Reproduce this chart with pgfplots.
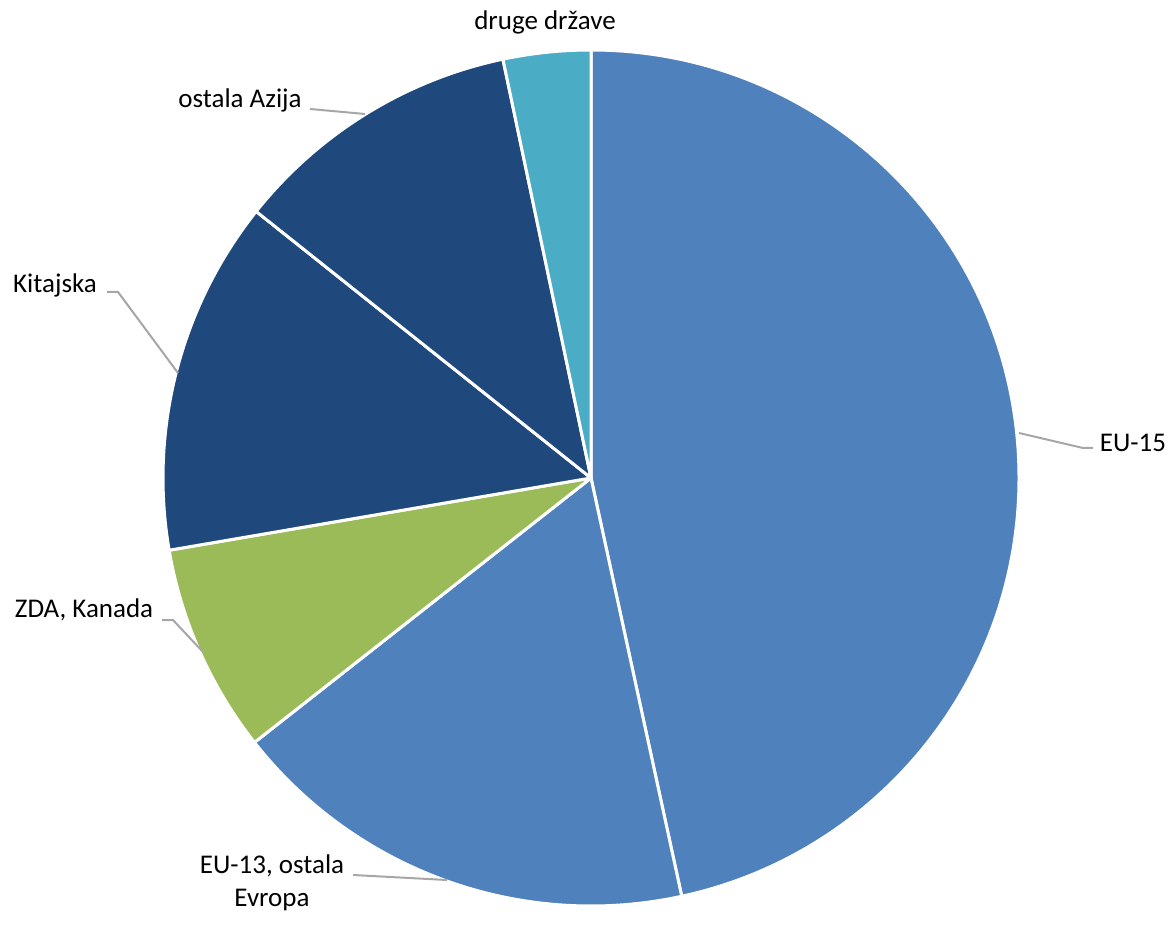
\documentclass[border=0pt]{standalone}
\usepackage{pgfplots}
\pgfplotsset{compat=1.18}
\usepackage{fontspec}
\setmainfont{Carlito}

\definecolor{sliceBlue}{HTML}{4F81BD}
\definecolor{sliceGreen}{HTML}{9BBB59}
\definecolor{sliceNavy}{HTML}{1F497D}
\definecolor{sliceAqua}{HTML}{4BACC6}
\definecolor{leader}{HTML}{A6A6A6}

% shares in percent, clockwise from the top
\def\pA{46.6}  % EU-15
\def\pB{17.8}  % EU-13, ostala Evropa
\def\pC{7.9}   % ZDA, Kanada
\def\pD{13.4}  % Kitajska
\def\pE{11.0}  % ostala Azija
\def\pF{3.3}   % druge drzave

\pgfmathsetmacro\aA{90}
\pgfmathsetmacro\aB{\aA-3.6*\pA}
\pgfmathsetmacro\aC{\aB-3.6*\pB}
\pgfmathsetmacro\aD{\aC-3.6*\pC}
\pgfmathsetmacro\aE{\aD-3.6*\pD}
\pgfmathsetmacro\aF{\aE-3.6*\pE}
\pgfmathsetmacro\aG{\aF-3.6*\pF}

\newcommand\slice[3]{%
  \fill[#3,draw=white,line width=1.5pt,line join=round]
    (axis cs:591,436) -- ++(#1:214pt) arc[start angle=#1,end angle=#2,radius=214pt] -- cycle;}

\begin{document}
\begin{tikzpicture}
\begin{axis}[
    x=0.5pt, y=0.5pt,
    xmin=0, xmax=1176, ymin=0, ymax=914,
    hide axis,
    clip=false,
]
\path (axis cs:0,0) rectangle (axis cs:1176,914);

\slice{\aA}{\aB}{sliceBlue}
\slice{\aB}{\aC}{sliceBlue}
\slice{\aC}{\aD}{sliceGreen}
\slice{\aD}{\aE}{sliceNavy}
\slice{\aE}{\aF}{sliceNavy}
\slice{\aF}{\aG}{sliceAqua}

% leader lines
\draw[leader,line width=1pt] (axis cs:1019,481) -- (axis cs:1083,466) -- (axis cs:1093,466);
\draw[leader,line width=1pt] (axis cs:353,39) -- (axis cs:447,34);
\draw[leader,line width=1pt] (axis cs:162,294) -- (axis cs:173,294) -- (axis cs:203,262);
\draw[leader,line width=1pt] (axis cs:107,622) -- (axis cs:118,622) -- (axis cs:178,541);
\draw[leader,line width=1pt] (axis cs:310,805) -- (axis cs:365,800);

% labels
\begin{scope}[every node/.style={font=\fontsize{13.5}{16.5}\selectfont,inner sep=0pt}]
\node at (axis cs:1133,471) {EU-15};
\node[align=center] at (axis cs:272,31) {EU-13, ostala\\Evropa};
\node at (axis cs:84,304) {ZDA, Kanada};
\node at (axis cs:55,629) {Kitajska};
\node at (axis cs:240,814) {ostala Azija};
\node at (axis cs:545,892) {druge države};
\end{scope}
\end{axis}
\end{tikzpicture}
\end{document}
